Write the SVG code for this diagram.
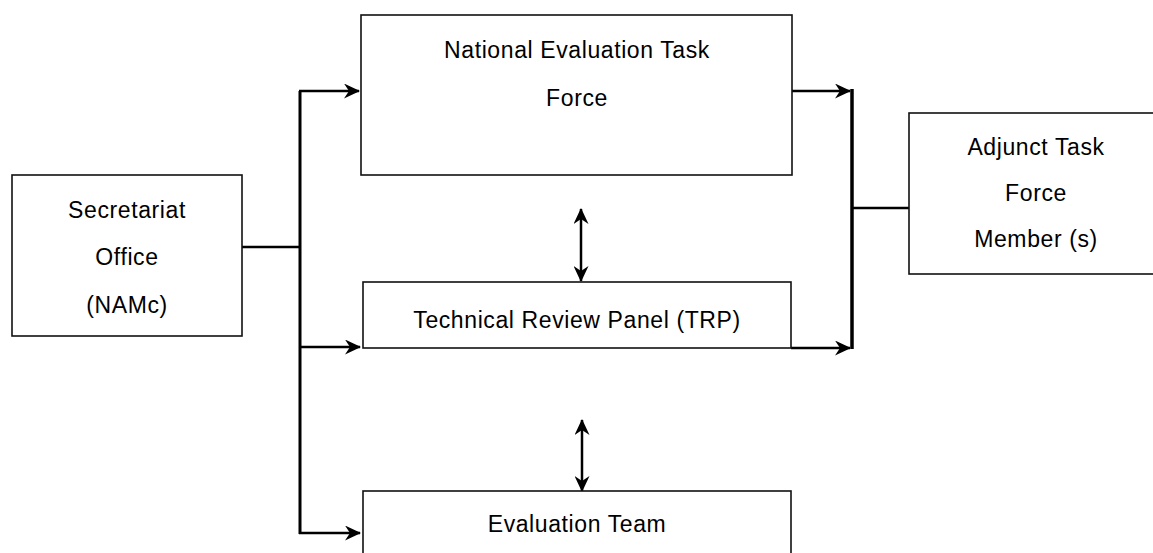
<svg xmlns="http://www.w3.org/2000/svg" width="1153" height="553" viewBox="0 0 1153 553">
  <style>
    .box { fill: #ffffff; stroke: #111111; stroke-width: 1.6; }
    .lbl { font-family: "Liberation Sans", Arial, sans-serif; font-size: 23px; letter-spacing: 0.6px; fill: #000000; text-anchor: middle; }
    .conn { fill: none; stroke: #000000; stroke-width: 2.5; }
    .bar { fill: none; stroke: #000000; stroke-width: 3.5; }
  </style>
  <defs>
    <marker id="arrow" viewBox="0 0 16 15" refX="15" refY="7.5" markerWidth="16" markerHeight="15" markerUnits="userSpaceOnUse" orient="auto-start-reverse">
      <path d="M0,0 L16,7.5 L0,15 L5,7.5 Z" fill="#000000"/>
    </marker>
  </defs>
  <rect width="1153" height="553" fill="#ffffff"/>

  <g id="connectors">
    <path class="conn" d="M242,247 H300"/>
    <path class="bar" d="M300,91 V534" style="stroke-width:3"/>
    <path class="conn" d="M299,91 H359" marker-end="url(#arrow)"/>
    <path class="conn" d="M299,347 H360" marker-end="url(#arrow)"/>
    <path class="conn" d="M299,533 H360" marker-end="url(#arrow)"/>
    <path class="conn" d="M792,91 H850" marker-end="url(#arrow)"/>
    <path class="conn" d="M791,348 H850" marker-end="url(#arrow)"/>
    <path class="bar" d="M852,89 V349"/>
    <path class="conn" d="M852,208 H909"/>
    <path class="conn" d="M581,209 V281" marker-start="url(#arrow)" marker-end="url(#arrow)"/>
    <path class="conn" d="M582,420 V491" marker-start="url(#arrow)" marker-end="url(#arrow)"/>
  </g>

  <g id="secretariat">
    <rect class="box" x="12" y="175" width="230" height="161"/>
    <text class="lbl" x="127" y="218">Secretariat</text>
    <text class="lbl" x="127" y="265">Office</text>
    <text class="lbl" x="127" y="313">(NAMc)</text>
  </g>

  <g id="netf">
    <rect class="box" x="361" y="15" width="431" height="160"/>
    <text class="lbl" x="577" y="58">National Evaluation Task</text>
    <text class="lbl" x="577" y="106">Force</text>
  </g>

  <g id="trp">
    <rect class="box" x="363" y="282" width="428" height="66"/>
    <text class="lbl" x="577" y="328">Technical Review Panel (TRP)</text>
  </g>

  <g id="evaluation-team">
    <rect class="box" x="363" y="491" width="428" height="80"/>
    <text class="lbl" x="577" y="532">Evaluation Team</text>
  </g>

  <g id="adjunct">
    <rect class="box" x="909" y="113" width="256" height="161"/>
    <text class="lbl" x="1036" y="155">Adjunct Task</text>
    <text class="lbl" x="1036" y="201">Force</text>
    <text class="lbl" x="1036" y="247">Member (s)</text>
  </g>
</svg>
